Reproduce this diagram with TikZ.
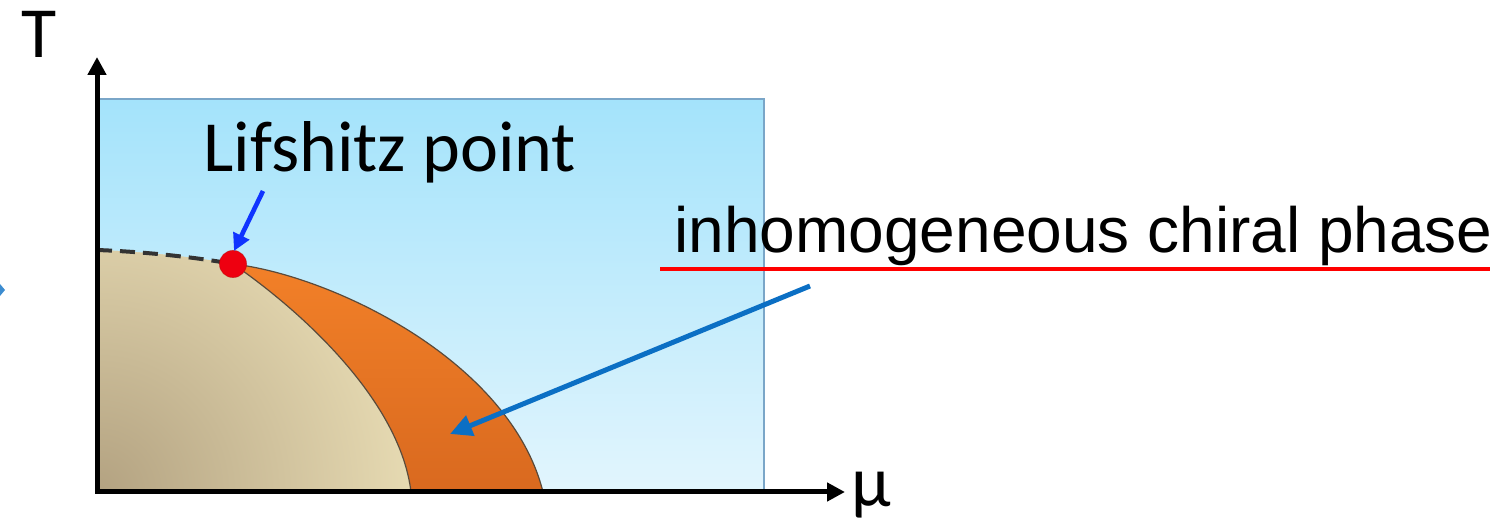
\documentclass[tikz,border=0pt]{standalone}
\usepackage{fontspec}
\newfontfamily\carl{Carlito}
\newfontfamily\arialf{Liberation Sans}
\usetikzlibrary{arrows.meta}
\definecolor{skytop}{HTML}{A4E3FB}
\definecolor{skybot}{HTML}{E2F5FD}
\definecolor{skyedge}{HTML}{7AA6C8}
\definecolor{beigelight}{HTML}{E7DBB3}
\definecolor{beigedark}{HTML}{B3A281}
\definecolor{orangetop}{HTML}{F28028}
\definecolor{orangebot}{HTML}{D9691F}
\definecolor{edgegray}{HTML}{5A4A3A}
\definecolor{ptblue}{HTML}{1034FF}
\definecolor{longblue}{HTML}{0B6FC4}
\definecolor{dotred}{HTML}{EE0010}
\tikzset{
  axisline/.style={line width=2.5pt, black, {Triangle[length=9pt,width=9pt]}-{Triangle[length=9pt,width=9pt]}},
  bigtext/.style={inner sep=0pt, font=\carl\fontsize{36}{40}\selectfont},
  phasetext/.style={inner sep=0pt, font=\arialf\fontsize{32}{36}\selectfont},
  ptarrow/.style={draw=ptblue, line width=2.3pt, -{Triangle[length=8.5pt,width=8.5pt]}},
  longarrow/.style={draw=longblue, line width=2.5pt, -{Triangle[length=11pt,width=10.5pt]}},
  boundary/.style={draw=edgegray, line width=0.6pt}
}
\begin{document}
\begin{tikzpicture}[x=0.5pt,y=-0.5pt]
\useasboundingbox (0,0) rectangle (1502,522);
% coordinates
\coordinate (O) at (97,492);
\coordinate (ytip) at (97,57);
\coordinate (xtip) at (845,492);
\coordinate (LP) at (233,264);
\coordinate (dashstart) at (97,250);
\coordinate (innerend) at (411,492);
\coordinate (outerend) at (543,492);
% sky background
\shade[top color=skytop, bottom color=skybot] (97,99) rectangle (764,492);
\draw[skyedge, line width=1pt] (97,99) -- (764,99) -- (764,492);
% orange band
\shade[top color=orangetop, bottom color=orangebot]
  (LP) .. controls (330,275) and (510,360) .. (outerend)
  -- (innerend) .. controls (400,400) and (300,310) .. (LP) -- cycle;
\draw[boundary] (LP) .. controls (330,275) and (510,360) .. (outerend);
% beige region
\begin{scope}
\clip (dashstart) .. controls (150,252) and (200,258) .. (LP)
  .. controls (300,310) and (400,400) .. (innerend) -- (O) -- cycle;
\fill[beigelight] (0,0) rectangle (600,522);
\shade[inner color=beigedark, outer color=beigelight] (O) circle (160pt);
\end{scope}
\draw[boundary] (LP) .. controls (300,310) and (400,400) .. (innerend);
\draw[dash pattern=on 7.5pt off 4pt, line width=2pt, black!80]
  (dashstart) .. controls (150,252) and (200,258) .. (LP);
% axes
\draw[axisline] (ytip) -- (O) -- (xtip);
% Lifshitz point
\fill[dotred] (LP) circle (6.8pt);
\draw[red!70!black, line width=0.4pt, opacity=0.4] (LP) circle (6.8pt);
% labels
\node[bigtext, anchor=base] (T) at (39,58) {T};
\node[bigtext, anchor=base west] (mu) at (851,507) {μ};
\node[bigtext, anchor=base west] (lif) at (203,172) {Lifshitz point};
\node[phasetext, anchor=base west] (inh) at (674,253) {inhomogeneous chiral phase};
% red underline
\coordinate (ulA) at (660,269);
\coordinate (ulB) at (1490,269);
\draw[red, line width=2pt] (ulA) -- (ulB);
% arrows
\coordinate (lifarrowstart) at (263,191);
\coordinate (lifarrowend) at (234,251);
\draw[ptarrow] (lifarrowstart) -- (lifarrowend);
\coordinate (longstart) at (810,286);
\coordinate (longend) at (450,434);
\draw[longarrow] (longstart) -- (longend);
% clipped tip at left edge
\fill[longblue!80] (0,284) -- (5,290) -- (0,296) -- cycle;
\end{tikzpicture}
\end{document}
